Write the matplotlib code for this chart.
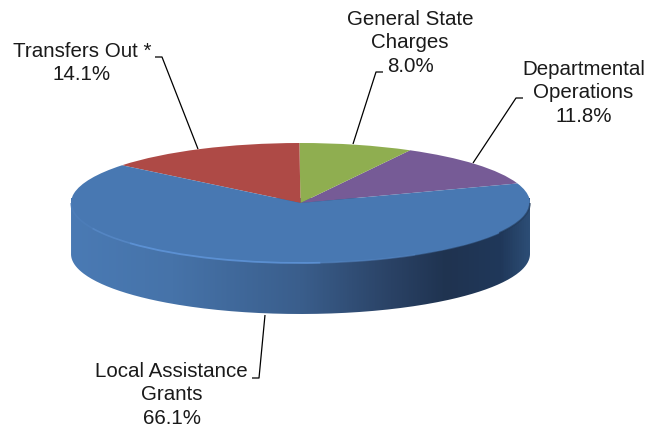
import numpy as np
import matplotlib
matplotlib.use("Agg")
import matplotlib.pyplot as plt
from matplotlib.colors import LinearSegmentedColormap
from matplotlib.patches import Arc, PathPatch
from matplotlib.path import Path

categories = ["Departmental\nOperations", "General State\nCharges", "Transfers Out *", "Local Assistance\nGrants"]
shares = [11.8, 8.0, 14.1, 66.1]
colors = ["#765B96", "#8FAE50", "#AE4A46", "#4878B2"]

W, H = 649, 432
CX, CY, RX, RY, DEPTH = 300.5, 203, 229.5, 60, 51
START = 19

plt.rcParams["font.family"] = ["Liberation Sans", "DejaVu Sans"]
fig = plt.figure(figsize=(W / 100, H / 100), dpi=100, facecolor="white")

# Pixel-space axes for the rim and annotations
base = fig.add_axes([0, 0, 1, 1], zorder=1)

t = np.radians(np.linspace(180, 360, 200))
rim_x = CX + RX * np.cos(t)
rim_y = CY + DEPTH - RY * np.sin(t)
verts = np.vstack([
    [[CX - RX, CY - 5]],
    np.column_stack([rim_x, rim_y]),
    [[CX + RX, CY - 5]],
    [[CX - RX, CY - 5]],
])
rim = PathPatch(Path(verts), facecolor="none", edgecolor="none")
base.add_patch(rim)
cmap = LinearSegmentedColormap.from_list("rim", [
    (0.00, "#4A7AB4"), (0.22, "#4673A9"), (0.50, "#3A5E8C"),
    (0.70, "#2A4265"), (0.82, "#1F3350"), (0.94, "#20385A"), (1.00, "#2C4D75"),
])
img = base.imshow(np.linspace(0, 1, 460)[None, :], cmap=cmap, aspect="auto",
                  extent=(CX - RX, CX + RX, CY + DEPTH + RY + 2, CY - 8), zorder=1)
img.set_clip_path(rim)
base.set_xlim(0, W)
base.set_ylim(H, 0)
base.axis("off")

# Pie axes: unit circle stretched to the elliptical top surface
pie_ax = fig.add_axes([(CX - RX) / W, 1 - (CY + RY) / H, 2 * RX / W, 2 * RY / H], zorder=2)
wedges, _ = pie_ax.pie(shares, colors=colors, startangle=START, counterclock=True, radius=1)
pie_ax.set_aspect("auto")
pie_ax.set_xlim(-1, 1)
pie_ax.set_ylim(-1, 1)
pie_ax.patch.set_alpha(0)
for w in wedges:
    w.set_clip_on(False)
    w.set_edgecolor("none")
for th1, th2, col, lw, al in [(180, 205, "#4F80BC", 1.2, 0.6), (205, 222, "#5A8CCB", 1.2, 0.7),
                              (222, 275, "#639AE0", 1.3, 0.75), (275, 300, "#5A8CCB", 1.1, 0.5),
                              (300, 330, "#4C7DB8", 1.0, 0.4), (330, 360, "#1F3654", 1.3, 0.6)]:
    pie_ax.add_patch(Arc((0, 0), 2, 2, theta1=th1, theta2=th2, color=col, lw=lw, alpha=al, clip_on=False))

# Labels and leader lines drawn above everything
top = fig.add_axes([0, 0, 1, 1], zorder=3)
top.set_xlim(0, W)
top.set_ylim(H, 0)
top.axis("off")
top.patch.set_alpha(0)

labels = [
    (583.5, 93, f"{categories[0]}\n{shares[0]:.1f}%"),
    (410, 43, f"{categories[1]}\n{shares[1]:.1f}%"),
    (82, 63, f"{categories[2]}\n{shares[2]:.1f}%"),
    (171.5, 395, f"{categories[3]}\n{shares[3]:.1f}%"),
]
for x, y, s in labels:
    top.text(x, y, s, ha="center", va="center", fontsize=14.8, color="#1a1a1a", linespacing=1.28)

leaders = [
    ([523, 516, 473], [98, 98, 163]),
    ([383, 376, 353], [72, 72, 144]),
    ([155, 162, 198], [57, 57, 149]),
    ([252, 259, 265], [378, 378, 315]),
]
for xs, ys in leaders:
    top.plot(xs, ys, color="black", lw=0.9, solid_capstyle="butt")

fig.savefig("out.png", dpi=100, facecolor="white")
